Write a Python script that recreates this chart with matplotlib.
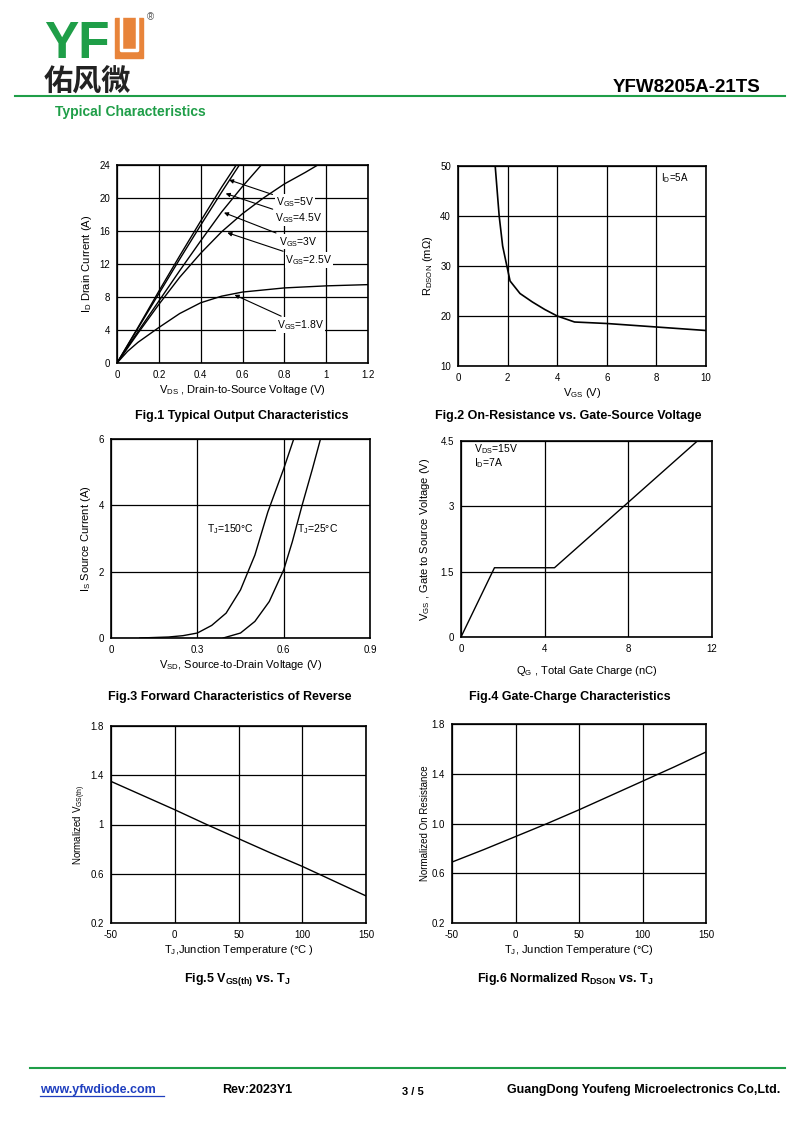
import matplotlib
matplotlib.use('Agg')
import matplotlib.pyplot as plt
from matplotlib.patches import Rectangle
from matplotlib.lines import Line2D

plt.rcParams['font.family'] = ['Liberation Sans', 'DejaVu Sans']
plt.rcParams['mathtext.fontset'] = 'custom'
plt.rcParams['mathtext.rm'] = 'Liberation Sans'
plt.rcParams['mathtext.it'] = 'Liberation Sans'
plt.rcParams['mathtext.bf'] = 'Liberation Sans:bold'
plt.rcParams['mathtext.default'] = 'regular'
plt.rcParams['axes.unicode_minus'] = False

# --- Fig.1 output characteristics ---
vds_5v = [0, 0.1, 0.2, 0.3, 0.4, 0.5, 0.57]
id_5v = [0, 4.3, 8.7, 13.0, 17.2, 21.3, 24]
vds_45v = [0, 0.1, 0.2, 0.3, 0.4, 0.5, 0.585]
id_45v = [0, 4.2, 8.4, 12.6, 16.7, 20.7, 24]
vds_3v = [0, 0.1, 0.2, 0.3, 0.4, 0.5, 0.6, 0.69]
id_3v = [0, 3.8, 7.5, 11.2, 14.8, 18.3, 21.4, 24]
vds_25v = [0, 0.1, 0.2, 0.3, 0.4, 0.5, 0.6, 0.7, 0.8, 0.9, 0.96]
id_25v = [0, 3.6, 7.1, 10.4, 13.3, 15.9, 18.1, 20.0, 21.7, 23.1, 24]
vds_18v = [0, 0.05, 0.1, 0.2, 0.3, 0.4, 0.5, 0.6, 0.8, 1.0, 1.2]
id_18v = [0, 1.4, 2.5, 4.3, 6.0, 7.3, 8.1, 8.6, 9.1, 9.35, 9.5]

# --- Fig.2 on-resistance vs VGS ---
vgs_r = [1.5, 1.66, 1.8, 1.97, 2.1, 2.5, 3.0, 3.5, 4.0, 4.7, 6.0, 8.0, 10.0]
rdson = [50, 40, 34, 30, 27, 24.5, 22.8, 21.3, 20.0, 18.8, 18.5, 17.8, 17.1]

# --- Fig.3 body diode forward ---
vsd_150 = [0.1, 0.2, 0.25, 0.3, 0.35, 0.4, 0.45, 0.5, 0.545, 0.6, 0.635]
is_150 = [0.0, 0.03, 0.07, 0.15, 0.38, 0.75, 1.45, 2.5, 3.8, 5.1, 6.0]
vsd_25 = [0.39, 0.45, 0.5, 0.55, 0.6, 0.63, 0.664, 0.7, 0.728]
is_25 = [0.0, 0.15, 0.5, 1.1, 2.05, 2.9, 4.0, 5.1, 6.0]

# --- Fig.4 gate charge ---
qg = [0, 1.6, 4.47, 11.3]
vgs_q = [0, 1.59, 1.59, 4.5]

# --- Fig.5 / Fig.6 temperature ---
tj = [-50, -25, 0, 25, 50, 75, 100, 125, 150]
vth_norm = [1.35, 1.235, 1.12, 1.0, 0.885, 0.77, 0.66, 0.54, 0.42]
rdson_norm = [0.69, 0.79, 0.895, 1.0, 1.11, 1.225, 1.34, 1.455, 1.575]

W, H = 800, 1130
fig = plt.figure(figsize=(8, 11.3), dpi=100)
GREEN = '#1f9e48'


def ftext(x, y, s, **kw):
    # place text using page pixel coordinates
    return fig.text(x / W, 1 - y / H, s, **kw)


def make_ax(l, t, r, b):
    ax = fig.add_axes([l / W, 1 - b / H, (r - l) / W, (b - t) / H])
    for s in ax.spines.values():
        s.set_linewidth(1.2)
    ax.tick_params(length=0, labelsize=7, pad=5)
    ax.grid(True, color='black', lw=0.9)
    ax.set_axisbelow(True)
    return ax


# header
ftext(44, 58, 'YF', fontsize=37, fontweight='bold', color=GREEN, va='baseline')
fig.add_artist(Rectangle((115 / W, 1 - 58 / H), 28 / W, 40 / H, color='#e8843a',
                         transform=fig.transFigure))
fig.add_artist(Line2D([121 / W, 121 / W, 137 / W, 137 / W],
                      [1 - 18 / H, 1 - 50 / H, 1 - 50 / H, 1 - 18 / H],
                      color='white', lw=2.5, transform=fig.transFigure))
ftext(147, 20, '®', fontsize=7, color='#555555')
ftext(44, 91, '佑风微', fontsize=21, fontweight='bold', color='#222222',
      family=['Noto Sans CJK SC', 'DejaVu Sans'], va='baseline')
ftext(760, 92, 'YFW8205A-21TS', fontsize=13.5, fontweight='bold', ha='right', va='baseline')
fig.add_artist(Line2D([15 / W, 785 / W], [1 - 96 / H] * 2, color=GREEN, lw=1.5,
                      transform=fig.transFigure))
ftext(55, 116, 'Typical Characteristics', fontsize=10, fontweight='bold', color=GREEN,
      va='baseline')

# Fig.1
ax1 = make_ax(117, 165, 368, 363)
ax1.plot(vds_5v, id_5v, color='black', lw=1)
ax1.plot(vds_45v, id_45v, color='black', lw=1)
ax1.plot(vds_3v, id_3v, color='black', lw=1)
ax1.plot(vds_25v, id_25v, color='black', lw=1)
ax1.plot(vds_18v, id_18v, color='black', lw=1)
ax1.set_xlim(0, 1.2)
ax1.set_ylim(0, 24)
ax1.set_xticks([0, 0.2, 0.4, 0.6, 0.8, 1, 1.2])
ax1.set_xticklabels(['0', '0.2', '0.4', '0.6', '0.8', '1', '1.2'])
ax1.set_yticks([0, 4, 8, 12, 16, 20, 24])
ax1.set_xlabel('V$_{DS}$ , Drain-to-Source Voltage (V)', fontsize=8, labelpad=2)
ax1.set_ylabel('I$_D$ Drain Current (A)', fontsize=8, labelpad=4)
arrow = dict(arrowstyle='-|>', color='black', lw=0.8, mutation_scale=6)
box = dict(fc='white', ec='none', pad=0.6)
for txt, head, tail in [('V$_{GS}$=5V', (0.523, 22.3), (0.76, 19.5)),
                        ('V$_{GS}$=4.5V', (0.507, 20.65), (0.755, 17.6)),
                        ('V$_{GS}$=3V', (0.499, 18.35), (0.775, 14.7)),
                        ('V$_{GS}$=2.5V', (0.515, 15.9), (0.805, 12.5)),
                        ('V$_{GS}$=1.8V', (0.55, 8.4), (0.765, 4.6))]:
    ax1.annotate(txt, xy=head, xytext=tail, fontsize=7.5, va='center', ha='left',
                 bbox=box, arrowprops=arrow)
ftext(242, 419, 'Fig.1 Typical Output Characteristics', fontsize=9, fontweight='bold',
      ha='center', va='baseline')

# Fig.2
ax2 = make_ax(458, 166, 706, 366)
ax2.plot(vgs_r, rdson, color='black', lw=1.2)
ax2.set_xlim(0, 10)
ax2.set_ylim(10, 50)
ax2.set_xticks([0, 2, 4, 6, 8, 10])
ax2.set_yticks([10, 20, 30, 40, 50])
ax2.set_xlabel('V$_{GS}$ (V)', fontsize=8, labelpad=2)
ax2.set_ylabel('R$_{DSON}$ (mΩ)', fontsize=8, labelpad=4)
ax2.text(8.2, 47.5, 'I$_D$=5A', fontsize=7, va='center')
ftext(568, 419, 'Fig.2 On-Resistance vs. Gate-Source Voltage', fontsize=9,
      fontweight='bold', ha='center', va='baseline')

# Fig.3
ax3 = make_ax(111, 439, 370, 638)
ax3.plot(vsd_150, is_150, color='black', lw=1)
ax3.plot(vsd_25, is_25, color='black', lw=1)
ax3.set_xlim(0, 0.9)
ax3.set_ylim(0, 6)
ax3.set_xticks([0, 0.3, 0.6, 0.9])
ax3.set_xticklabels(['0', '0.3', '0.6', '0.9'])
ax3.set_yticks([0, 2, 4, 6])
ax3.set_xlabel('V$_{SD}$, Source-to-Drain Voltage (V)', fontsize=8, labelpad=2)
ax3.set_ylabel('I$_S$ Source Current (A)', fontsize=8, labelpad=4)
ax3.text(0.334, 3.27, 'T$_J$=150°C', fontsize=7.5, va='center')
ax3.text(0.647, 3.27, 'T$_J$=25°C', fontsize=7.5, va='center')
ftext(230, 700, 'Fig.3 Forward Characteristics of Reverse', fontsize=9, fontweight='bold',
      ha='center', va='baseline')

# Fig.4
ax4 = make_ax(461, 441, 712, 637)
ax4.plot(qg, vgs_q, color='black', lw=1)
ax4.set_xlim(0, 12)
ax4.set_ylim(0, 4.5)
ax4.set_xticks([0, 4, 8, 12])
ax4.set_yticks([0, 1.5, 3, 4.5])
ax4.set_yticklabels(['0', '1.5', '3', '4.5'])
ax4.set_xlabel('Q$_G$ , Total Gate Charge (nC)', fontsize=8, labelpad=7)
ax4.set_ylabel('V$_{GS}$ , Gate to Source Voltage (V)', fontsize=8, labelpad=6)
ax4.text(0.6, 4.16, 'V$_{DS}$=15V\nI$_D$=7A', fontsize=7.5, va='center', linespacing=1.0)
ftext(570, 700, 'Fig.4 Gate-Charge Characteristics', fontsize=9, fontweight='bold',
      ha='center', va='baseline')

# Fig.5
ax5 = make_ax(111, 726, 366, 923)
ax5.plot(tj, vth_norm, color='black', lw=1)
ax5.set_xlim(-50, 150)
ax5.set_ylim(0.2, 1.8)
ax5.set_xticks([-50, 0, 50, 100, 150])
ax5.set_yticks([0.2, 0.6, 1.0, 1.4, 1.8])
ax5.set_yticklabels(['0.2', '0.6', '1', '1.4', '1.8'])
ax5.set_xlabel('T$_J$,Junction Temperature (°C )', fontsize=8, labelpad=2)
ax5.set_ylabel('Normalized V$_{GS(th)}$', fontsize=7, labelpad=2)
ftext(237, 982, r'Fig.5 V$_\mathbf{GS(th)}$ vs. T$_\mathbf{J}$', fontsize=9,
      fontweight='bold', ha='center', va='baseline')

# Fig.6
ax6 = make_ax(452, 724, 706, 923)
ax6.plot(tj, rdson_norm, color='black', lw=1)
ax6.set_xlim(-50, 150)
ax6.set_ylim(0.2, 1.8)
ax6.set_xticks([-50, 0, 50, 100, 150])
ax6.set_yticks([0.2, 0.6, 1.0, 1.4, 1.8])
ax6.set_yticklabels(['0.2', '0.6', '1.0', '1.4', '1.8'])
ax6.set_xlabel('T$_J$, Junction Temperature (°C)', fontsize=8, labelpad=2)
ax6.set_ylabel('Normalized On Resistance', fontsize=7, labelpad=1)
ftext(565, 982, r'Fig.6 Normalized R$_\mathbf{DSON}$ vs. T$_\mathbf{J}$', fontsize=9,
      fontweight='bold', ha='center', va='baseline')

# footer
fig.add_artist(Line2D([30 / W, 785 / W], [1 - 1068 / H] * 2, color=GREEN, lw=1.5,
                      transform=fig.transFigure))
ftext(40, 1093, 'www.yfwdiode.com', fontsize=9, fontweight='bold', color='#1f3fbf',
      va='baseline')
fig.add_artist(Line2D([40 / W, 164 / W], [1 - 1096 / H] * 2, color='#1f3fbf', lw=0.9,
                      transform=fig.transFigure))
ftext(222, 1093, 'Rev:2023Y1', fontsize=9, fontweight='bold', va='baseline')
ftext(413, 1095, '3 / 5', fontsize=8, fontweight='bold', ha='center', va='baseline')
ftext(780, 1093, 'GuangDong Youfeng Microelectronics Co,Ltd.', fontsize=9,
      fontweight='bold', ha='right', va='baseline')

fig.savefig('out.png', dpi=100)
